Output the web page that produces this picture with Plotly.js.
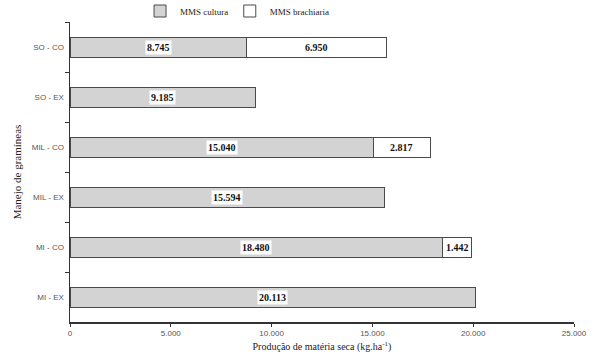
<!DOCTYPE html>
<html>
<head>
<meta charset="utf-8">
<script src="https://cdn.plot.ly/plotly-3.0.1.min.js"></script>
<style>html,body{margin:0;padding:0;background:#fff}#chart{width:600px;height:362px}</style>
</head>
<body>
<div id="chart"></div>
<script>
// Categories (top to bottom)
var categories = ['SO - CO', 'SO - EX', 'MIL - CO', 'MIL - EX', 'MI - CO', 'MI - EX'];
// MMS cultura (kg/ha)
var cultura = [8745, 9185, 15040, 15594, 18480, 20113];
// MMS brachiaria (kg/ha), null where absent
var brachiaria = [6950, null, 2817, null, 1442, null];
var xTicks = [0, 5000, 10000, 15000, 20000, 25000];

function fmt(v) {
  var s = String(Math.round(v));
  return s.replace(/\B(?=(\d{3})+(?!\d))/g, '.');
}

var traces = [
  {
    type: 'bar', orientation: 'h', name: 'MMS cultura', legend: 'legend',
    y: categories, x: cultura, width: 0.4,
    marker: {color: '#d3d3d3', line: {color: '#4a4a4a', width: 1}},
    hoverinfo: 'skip'
  },
  {
    type: 'bar', orientation: 'h', name: 'MMS brachiaria', legend: 'legend2',
    y: categories, x: brachiaria.map(function(v){return v === null ? 0 : v;}), width: 0.4,
    marker: {color: '#ffffff', line: {color: brachiaria.map(function(v){return v === null ? 'rgba(0,0,0,0)' : '#4a4a4a';}), width: 1}},
    hoverinfo: 'skip'
  }
];

var annotations = [];
categories.forEach(function(c, i) {
  annotations.push({
    x: cultura[i] / 2, y: c, xref: 'x', yref: 'y', text: fmt(cultura[i]), showarrow: false,
    bgcolor: '#ffffff', borderpad: 1,
    font: {family: 'Liberation Serif', size: 10, color: '#111', weight: 'bold'}
  });
  if (brachiaria[i] !== null) {
    annotations.push({
      x: cultura[i] + brachiaria[i] / 2, y: c, xref: 'x', yref: 'y', text: fmt(brachiaria[i]), showarrow: false,
      bgcolor: '#ffffff', borderpad: 1,
      font: {family: 'Liberation Serif', size: 10, color: '#111', weight: 'bold'}
    });
  }
});

var legendFont = {family: 'Liberation Serif', size: 9, color: '#222'};

var layout = {
  width: 600, height: 362,
  margin: {l: 70, r: 26, t: 22, b: 40, autoexpand: false},
  paper_bgcolor: '#fff', plot_bgcolor: '#fff',
  barmode: 'stack',
  separators: ',.',
  showlegend: true,
  legend: {
    orientation: 'h', x: 0.139, xanchor: 'left', y: 1.085, yanchor: 'top',
    font: legendFont, itemwidth: 30, bgcolor: 'rgba(0,0,0,0)'
  },
  legend2: {
    orientation: 'h', x: 0.317, xanchor: 'left', y: 1.085, yanchor: 'top',
    font: legendFont, itemwidth: 30, bgcolor: 'rgba(0,0,0,0)'
  },
  xaxis: {
    range: [0, 25000], tickvals: xTicks, ticktext: xTicks.map(fmt),
    showgrid: false, zeroline: false,
    showline: true, linecolor: '#333', linewidth: 1.5,
    ticks: 'outside', ticklen: 3, tickcolor: '#333',
    tickfont: {family: 'Liberation Sans', size: 8, color: '#555'},
    title: {text: 'Produção de matéria seca (kg.ha<sup>-1</sup>)', standoff: 6,
            font: {family: 'Liberation Serif', size: 10, color: '#222'}},
    fixedrange: true
  },
  yaxis: {
    type: 'category', autorange: false, range: [5.5, -0.5],
    categoryorder: 'array', categoryarray: categories,
    tickson: 'boundaries',
    showgrid: false, zeroline: false,
    showline: true, linecolor: '#333', linewidth: 1.5,
    ticks: 'outside', ticklen: 4, tickcolor: '#333',
    ticklabelstandoff: 3,
    tickfont: {family: 'Liberation Sans', size: 8, color: '#555'},
    title: {text: 'Manejo de gramíneas', standoff: 8,
            font: {family: 'Liberation Serif', size: 11, color: '#222'}},
    fixedrange: true
  },
  annotations: annotations
};

Plotly.newPlot('chart', traces, layout, {displayModeBar: false, staticPlot: true});
</script>
</body>
</html>
